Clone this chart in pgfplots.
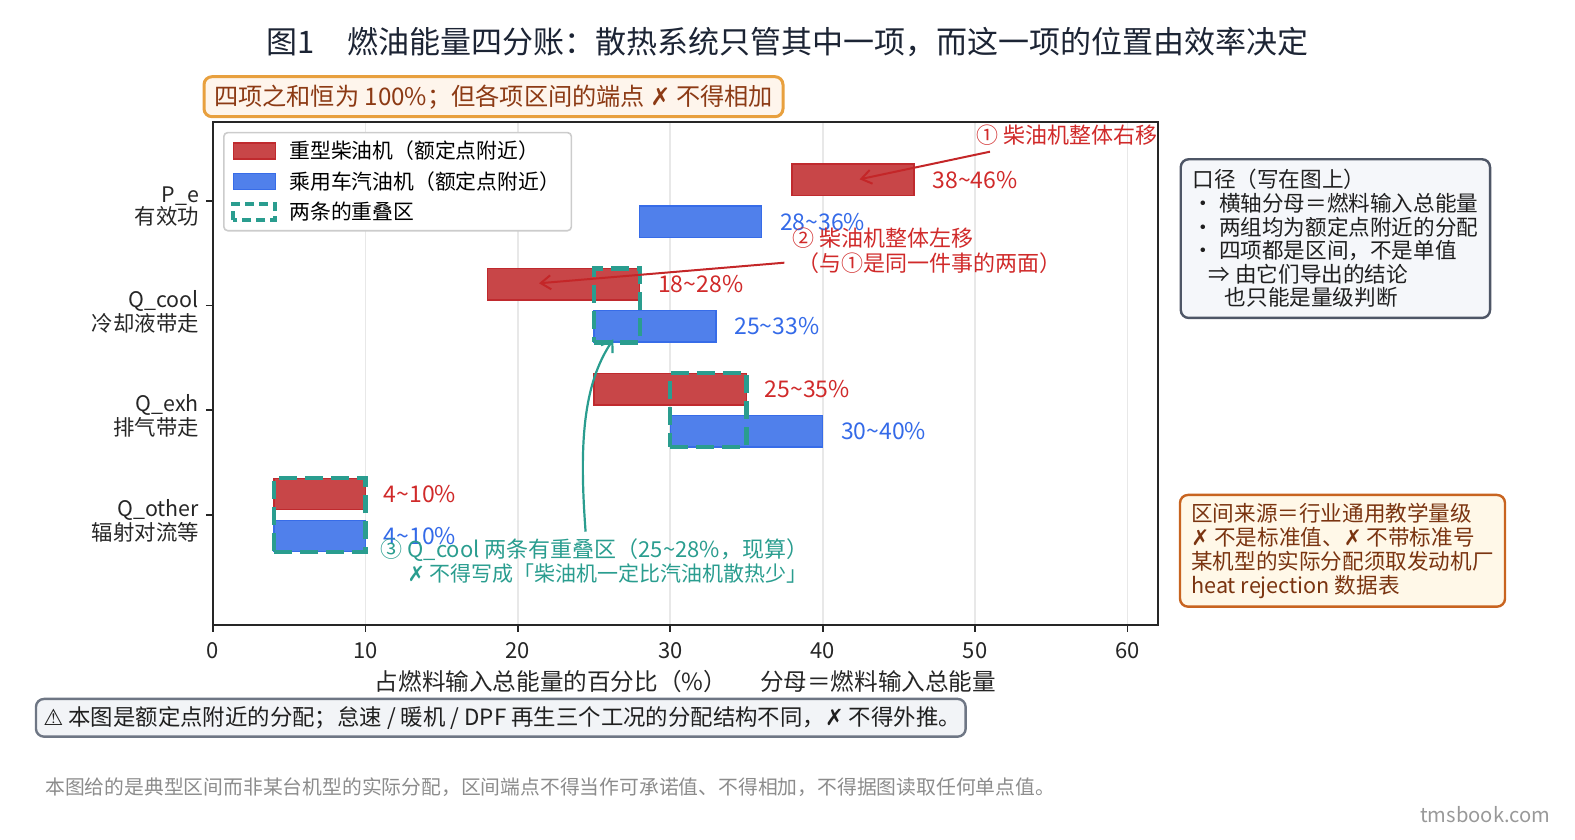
\documentclass[border=0pt]{standalone}
\usepackage{fontspec}
\setmainfont{Noto Sans CJK SC}
\newfontfamily\sym{DejaVu Sans}
\usepackage{pgfplots}
\usepackage{pgfplotstable}
\pgfplotsset{compat=1.18}
\usetikzlibrary{arrows.meta}

\definecolor{dred}{RGB}{200,70,72}
\definecolor{dredE}{RGB}{192,42,46}
\definecolor{gblue}{RGB}{80,128,235}
\definecolor{gblueE}{RGB}{55,108,232}
\definecolor{olap}{RGB}{42,157,143}
\definecolor{tred}{RGB}{208,42,42}
\definecolor{ared}{RGB}{196,38,40}
\definecolor{tblue}{RGB}{52,106,232}
\definecolor{ttl}{RGB}{28,36,52}
\definecolor{obord}{RGB}{232,160,62}
\definecolor{ofill}{RGB}{254,245,236}
\definecolor{otext}{RGB}{140,58,20}
\definecolor{gbord}{RGB}{78,86,102}
\definecolor{gfill}{RGB}{245,247,250}
\definecolor{bbord}{RGB}{200,100,32}
\definecolor{bfill}{RGB}{255,248,232}
\definecolor{btext}{RGB}{122,52,16}
\definecolor{wbord}{RGB}{110,118,132}
\definecolor{wfill}{RGB}{242,244,247}

% 区间：pos (Q_other=0 ... P_e=3), 下限, 上限 (%)
\pgfplotstableread{
pos lo hi
3 38 46
2 18 28
1 25 35
0 4 10
}\diesel
\pgfplotstableread{
pos lo hi
3 28 36
2 25 33
1 30 40
0 4 10
}\petrol
\pgfplotstableread{
pos lo hi
2 25 28
1 30 35
0 4 10
}\overlap

\pgfplotsset{
  basis/.style={scale only axis, width=472.5pt, height=251.65pt,
    at={(106.5pt,107.5pt)}, anchor=south west,
    xmin=0, xmax=62, ymin=-1.05, ymax=3.754},
  bars/.style={xbar stacked, bar width=15.7pt},
  patch/.style={legend image code/.code={\draw[##1, sharp corners] (0pt,-4pt) rectangle (21pt,4pt);}},
  % 区间标签：画在上限处
  lbl/.style 2 args={only marks, mark=none, forget plot,
    nodes near coords={\pgfmathprintnumber[int trunc, assume math mode=true]{\lo}\textasciitilde\pgfmathprintnumber[int trunc, assume math mode=true]{\hi}\%},
    visualization depends on={\thisrow{lo}\as\lo},
    visualization depends on={\thisrow{hi}\as\hi},
    every node near coord/.append style={anchor=west, inner sep=0pt, xshift=9pt, yshift=#2,
      font=\fontsize{11.5}{13}\selectfont, text=#1}},
}

\begin{document}
\begin{tikzpicture}
\useasboundingbox (0,0) rectangle (787.5pt,420pt);

% 柴油机 + 坐标轴
\begin{axis}[basis, bars,
  axis line style={line width=1pt, draw=black!85},
  xmajorgrids, grid style={line width=0.9pt, draw=black!9},
  xtick={0,10,...,60}, ytick={0,1,2,3},
  yticklabels={{Q\_other\\辐射对流等},{Q\_exh\\排气带走},{Q\_cool\\冷却液带走},{P\_e\\有效功}},
  tick align=outside, tick pos=left, major tick length=3.5pt,
  major tick style={line width=0.9pt, draw=black!85},
  /pgf/number format/assume math mode=true,
  xticklabel style={font=\fontsize{11}{12}\selectfont, text=black!85, yshift=-1.5pt},
  yticklabel style={align=right, font=\fontsize{10.7}{10.9}\selectfont, text=black!85, yshift=-3pt},
  xlabel={占燃料输入总能量的百分比（\%）\hspace{1.4em}分母＝燃料输入总能量},
  every axis x label/.style={at={(axis description cs:0.5,0)}, anchor=center, yshift=-28.5pt,
    font=\fontsize{11.8}{13}\selectfont, text=black!85},
  legend style={at={(0.0106,0.980)}, anchor=north west, draw=black!20, line width=0.8pt,
    rounded corners=2pt, fill=white, font=\fontsize{10.4}{12}\selectfont,
    inner xsep=3.8pt, inner ysep=1.5pt, nodes={inner ysep=2.5pt},
    /tikz/every odd column/.append style={column sep=4pt}},
  legend cell align=left,
]
\addlegendimage{patch, fill=dred, draw=dredE, line width=0.6pt}
\addlegendentry{重型柴油机（额定点附近）}
\addlegendimage{patch, fill=gblue, draw=gblueE, line width=0.6pt}
\addlegendentry{乘用车汽油机（额定点附近）}
\addlegendimage{patch, draw=olap, line width=2pt, dash pattern=on 4.5pt off 2.5pt}
\addlegendentry{两条的重叠区}

\addplot[draw=none, fill=none, bar shift=10.5pt, forget plot]
  table[x=lo, y=pos] {\diesel};
\addplot[fill=dred, draw=dredE, line width=0.7pt, bar shift=10.5pt, forget plot]
  table[x expr=\thisrow{hi}-\thisrow{lo}, y=pos] {\diesel};
\end{axis}

% 汽油机
\begin{axis}[basis, bars, hide axis]
\addplot[draw=none, fill=none, bar shift=-10.5pt, forget plot]
  table[x=lo, y=pos] {\petrol};
\addplot[fill=gblue, draw=gblueE, line width=0.7pt, bar shift=-10.5pt, forget plot]
  table[x expr=\thisrow{hi}-\thisrow{lo}, y=pos] {\petrol};
\end{axis}

% 重叠区
\begin{axis}[basis, bars, hide axis]
\addplot[draw=none, fill=none, bar shift=0pt, bar width=37pt, forget plot]
  table[x=lo, y=pos] {\overlap};
\addplot[draw=olap, fill=none, line width=2.2pt, dash pattern=on 9pt off 4pt,
  bar shift=0pt, bar width=37pt, forget plot]
  table[x expr=\thisrow{hi}-\thisrow{lo}, y=pos] {\overlap};
\end{axis}

% 区间标签
\begin{axis}[basis, hide axis]
\addplot[lbl={tred}{10.5pt}] table[x=hi, y=pos] {\diesel};
\addplot[lbl={tblue}{-10.5pt}] table[x=hi, y=pos] {\petrol};
\end{axis}

% 标题与说明框
\node[font=\fontsize{15.5}{18}\selectfont, text=ttl] at (393.75pt,399pt)
  {图1\hspace{1.05em}燃油能量四分账：散热系统只管其中一项，而这一项的位置由效率决定};
\node[draw=obord, fill=ofill, text=otext, line width=1.5pt, rounded corners=4pt,
  minimum width=289.5pt, minimum height=20pt, inner sep=0pt,
  font=\fontsize{12.1}{14}\selectfont] at (246.75pt,371.65pt)
  {四项之和恒为 100\%；但各项区间的端点 {\sym ✗} 不得相加};

\node[draw=gbord, fill=gfill, text=black!88, line width=1.2pt, rounded corners=4pt,
  minimum width=154.65pt, minimum height=79.35pt, inner xsep=5.5pt, inner ysep=0pt,
  align=left, font=\fontsize{10.8}{11.8}\selectfont]
  at (667.7pt,300.7pt)
  {口径（写在图上）\\・ 横轴分母＝燃料输入总能量\\・ 两组均为额定点附近的分配\\・ 四项都是区间，不是单值\\\hspace{0.75em}⇒ 由它们导出的结论\\\hspace{1.5em}也只能是量级判断};

\node[draw=bbord, fill=bfill, text=btext, line width=1.2pt, rounded corners=4pt,
  minimum width=162.5pt, minimum height=55.85pt, inner xsep=5.3pt, inner ysep=0pt,
  align=left, font=\fontsize{10.8}{12}\selectfont]
  at (671.25pt,144.6pt)
  {区间来源＝行业通用教学量级\\{\sym ✗} 不是标准值、{\sym ✗} 不带标准号\\某机型的实际分配须取发动机厂\\heat rejection 数据表\hspace{4.2em}};

\node[draw=wbord, fill=wfill, line width=1.2pt, rounded corners=4pt,
  minimum width=464.85pt, minimum height=18.85pt, inner sep=0pt] at (250.4pt,61.1pt) {};
\node[anchor=west, inner sep=0pt, text=black!88, font=\fontsize{11.2}{12}\selectfont] at (21.5pt,61.1pt)
  {{\sym ⚠} 本图是额定点附近的分配；怠速 / 暖机 / DPF 再生三个工况的分配结构不同，{\sym ✗} 不得外推。};

\node[anchor=west, inner sep=0pt, text=black!45, font=\fontsize{9.9}{11}\selectfont] at (22.5pt,26.65pt)
  {本图给的是典型区间而非某台机型的实际分配，区间端点不得当作可承诺值、不得相加，不得据图读取任何单点值。};
\node[anchor=east, inner sep=0pt, text=black!40, font=\fontsize{10.1}{12}\selectfont] at (775.5pt,12.5pt)
  {tmsbook.com};

% 注释与箭头
\node[anchor=east, inner sep=0pt, text=tred, font=\fontsize{11}{13}\selectfont] at (579pt,352.5pt)
  {① 柴油机整体右移};
\draw[ared, line width=1pt, -{Straight Barb[length=5pt, width=7pt]}]
  (495pt,344.15pt) -- (429.8pt,330.35pt);
\node[anchor=west, inner sep=0pt, text=tred, font=\fontsize{11}{13}\selectfont] at (395.85pt,300.85pt)
  {② 柴油机整体左移};
\node[anchor=west, inner sep=0pt, text=tred, font=\fontsize{11}{13}\selectfont] at (398.3pt,288.65pt)
  {（与①是同一件事的两面）};
\draw[ared, line width=1pt, -{Straight Barb[length=5pt, width=7pt]}]
  (392.2pt,288.65pt) -- (269.5pt,278.35pt);

\draw[olap, line width=1.1pt, -{Straight Barb[length=5pt, width=7pt]}]
  (292.8pt,154.15pt) .. controls (289.5pt,198pt) and (291.5pt,228pt) .. (306.7pt,250.35pt);
\node[anchor=west, inner sep=0pt, text=olap, font=\fontsize{11}{13}\selectfont] at (190.15pt,145pt)
  {③ Q\_cool 两条有重叠区（25\textasciitilde28\%，现算）};
\node[anchor=west, inner sep=0pt, text=olap, font=\fontsize{10.5}{13}\selectfont] at (203.6pt,133.35pt)
  {{\sym ✗} 不得写成「柴油机一定比汽油机散热少」};
\end{tikzpicture}
\end{document}
